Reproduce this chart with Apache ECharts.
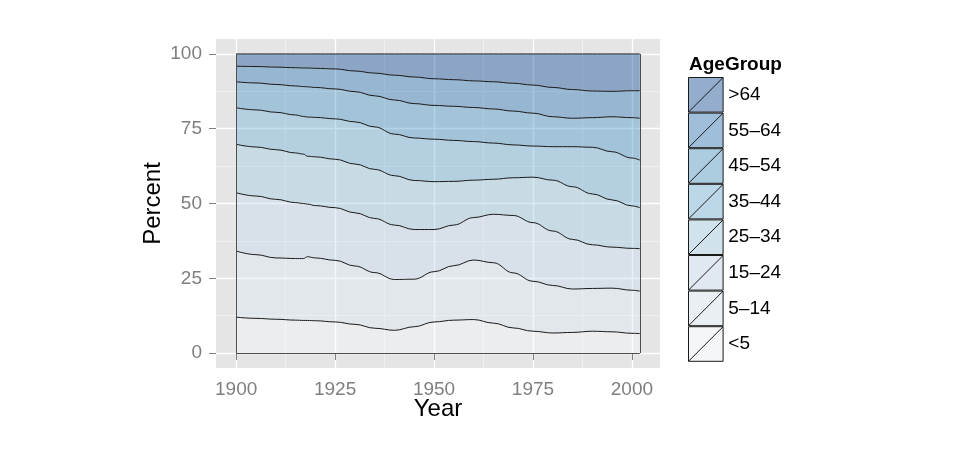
<!DOCTYPE html>
<html>
<head>
<meta charset="utf-8">
<script src="https://cdn.jsdelivr.net/npm/echarts@6/dist/echarts.min.js"></script>
<style>
  html, body { margin: 0; padding: 0; background: #ffffff; }
  #chart { width: 956px; height: 456px; }
</style>
</head>
<body>
<div id="chart"></div>
<script>
// ---- Data (percent of US population by age group) ----
const years = [1900, 1905, 1910, 1915, 1917, 1918, 1920, 1925, 1930, 1935, 1940, 1945,
               1950, 1955, 1960, 1965, 1970, 1975, 1980, 1985, 1990, 1995, 2000, 2002];

const ageUnder5 = [12.0, 11.6, 11.3, 11.0, 10.9, 10.9, 10.8, 10.4, 9.6, 8.3, 7.6, 8.8,
                   10.4, 11.0, 11.2, 10.0, 8.4, 7.3, 6.7, 6.9, 7.3, 7.1, 6.6, 6.5];
const age5to14 = [22.1, 21.3, 20.5, 20.6, 20.7, 21.3, 21.0, 20.6, 19.5, 18.6, 17.0, 15.9,
                  16.8, 18.2, 19.9, 20.2, 18.4, 16.7, 15.9, 14.5, 14.3, 14.6, 14.4, 14.2];
const age15to24 = [19.5, 19.6, 19.6, 18.7, 18.4, 17.6, 17.5, 17.6, 17.8, 18.1, 18.2, 16.6,
                   14.1, 13.6, 14.2, 16.2, 19.2, 19.6, 18.2, 16.6, 14.6, 13.7, 14.0, 14.2];
const age25to34 = [16.2, 16.4, 16.6, 16.6, 16.5, 16.0, 16.3, 16.2, 16.3, 16.4, 16.5, 16.4,
                   16.0, 14.6, 12.5, 11.7, 12.6, 15.2, 17.0, 17.6, 17.0, 15.8, 14.2, 13.7];
const age35to44 = [12.2, 12.4, 12.5, 12.7, 12.6, 13.1, 13.2, 13.5, 14.1, 14.2, 13.9, 14.2,
                   14.2, 13.7, 12.9, 12.1, 11.0, 10.4, 11.2, 13.4, 15.6, 16.1, 16.0, 15.9];
const age45to54 = [8.7, 9.0, 9.3, 9.7, 10.0, 10.1, 10.0, 10.0, 10.1, 10.4, 11.4, 11.5,
                   11.3, 11.4, 11.4, 11.4, 11.3, 11.0, 10.0, 9.5, 9.9, 11.7, 13.5, 14.0];
const age55to64 = [5.2, 5.5, 5.8, 6.1, 6.2, 6.3, 6.4, 6.7, 6.9, 7.6, 8.3, 8.9,
                   8.9, 8.9, 8.9, 9.1, 9.3, 9.4, 9.8, 9.6, 8.9, 8.5, 9.0, 9.2];
const ageOver64 = [4.1, 4.2, 4.4, 4.6, 4.7, 4.7, 4.8, 5.0, 5.7, 6.4, 7.1, 7.7,
                   8.3, 8.6, 9.0, 9.3, 9.8, 10.4, 11.2, 11.9, 12.4, 12.5, 12.3, 12.3];

const groupNames = ['<5', '5\u201314', '15\u201324', '25\u201334', '35\u201344', '45\u201354', '55\u201364', '>64'];
const groupValues = [ageUnder5, age5to14, age15to24, age25to34, age35to44, age45to54, age55to64, ageOver64];

const xTicks = [1900, 1925, 1950, 1975, 2000];
const xMinorTicks = [1912.5, 1937.5, 1962.5, 1987.5];
const yTicks = [0, 25, 50, 75, 100];
const yMinorTicks = [12.5, 37.5, 62.5, 87.5];

// ---- Styling ----
const FONT = 'Liberation Sans, Arial, Helvetica, sans-serif';
// Blues palette (ColorBrewer, 8 classes) with alpha 0.4
const areaColors = ['rgba(247,251,255,0.4)', 'rgba(222,235,247,0.4)', 'rgba(198,219,239,0.4)',
  'rgba(158,202,225,0.4)', 'rgba(107,174,214,0.4)', 'rgba(66,146,198,0.4)',
  'rgba(33,113,181,0.4)', 'rgba(8,69,148,0.4)'];
// same colours composited over the legend key background
const legendColors = ['#F4F6F7', '#EAEFF4', '#E0E9F1', '#D0E2EB', '#BCD7E7', '#ACCCE0', '#9EBED9', '#94ADCC'];

const chart = echarts.init(document.getElementById('chart'), null, { renderer: 'canvas' });

// data rows are [percent, year]; encode maps year -> x and percent -> y so that
// the stack is computed on the percent (y) dimension.
const series = groupNames.map((name, i) => ({
  name: name,
  type: 'line',
  stack: 'total',
  xAxisIndex: 0,
  yAxisIndex: 0,
  encode: { x: 1, y: 0 },
  smooth: 0.4,
  smoothMonotone: 'x',
  showSymbol: false,
  symbol: 'none',
  lineStyle: { color: '#1a1a1a', width: 1 },
  areaStyle: { color: areaColors[i], opacity: 1 },
  emphasis: { disabled: true },
  z: 3,
  data: years.map((y, k) => [groupValues[i][k], y])
}));

// outline of the stacked region (left, right and bottom edges)
series.push({
  name: 'outline',
  type: 'line',
  xAxisIndex: 0,
  yAxisIndex: 0,
  data: [],
  silent: true,
  z: 4,
  markLine: {
    silent: true,
    symbol: ['none', 'none'],
    label: { show: false },
    lineStyle: { color: '#4d4d4d', width: 1, type: 'solid' },
    data: [
      [{ coord: [years[0], 0] }, { coord: [years[0], 100] }],
      [{ coord: [years[years.length - 1], 0] }, { coord: [years[years.length - 1], 100] }],
      [{ coord: [years[0], 0] }, { coord: [years[years.length - 1], 0] }]
    ]
  }
});

const xMin = 1894.9, xMax = 2007.1, yMin = -5, yMax = 105;

const option = {
  animation: false,
  backgroundColor: '#ffffff',
  title: {
    text: 'AgeGroup',
    left: 689,
    top: 55,
    padding: 0,
    textStyle: { fontFamily: FONT, fontSize: 19, fontWeight: 'bold', color: '#000000' }
  },
  legend: {
    orient: 'vertical',
    left: 688,
    top: 77,
    padding: 0,
    itemWidth: 35,
    itemHeight: 34.6,
    itemGap: 0,
    selectedMode: false,
    textStyle: { fontFamily: FONT, fontSize: 19, color: '#000000' },
    data: groupNames.slice().reverse().map((name) => {
      const i = groupNames.indexOf(name);
      return {
        name: name,
        icon: 'path://M0,0L100,0L100,100L0,100Z M0,100L100,0',
        itemStyle: { color: legendColors[i], borderColor: '#1a1a1a', borderWidth: 1 }
      };
    })
  },
  grid: {
    left: 216, right: 296, top: 39, bottom: 88,
    show: true,
    backgroundColor: '#E5E5E5',
    borderWidth: 0,
    containLabel: false
  },
  xAxis: [
    {
      type: 'value',
      min: xMin, max: xMax,
      name: 'Year',
      nameLocation: 'middle',
      nameGap: 29,
      nameMoveOverlap: false,
      nameTextStyle: { fontFamily: FONT, fontSize: 24, color: '#000000' },
      axisLine: { show: false },
      axisTick: { show: true, length: 7, customValues: xTicks, lineStyle: { color: '#7F7F7F', width: 1 } },
      axisLabel: { show: true, customValues: xTicks, margin: 12, fontFamily: FONT, fontSize: 19, color: '#7F7F7F',
                   formatter: (v) => String(v) },
      splitLine: { show: true, lineStyle: { color: '#FFFFFF', width: 1.3 } },
      z: 2
    },
    {
      type: 'value',
      min: xMin, max: xMax,
      position: 'bottom',
      axisLine: { show: false },
      axisTick: { show: false, customValues: xMinorTicks },
      axisLabel: { show: false, customValues: xMinorTicks },
      splitLine: { show: true, lineStyle: { color: '#F2F2F2', width: 0.8 } },
      z: 1
    }
  ],
  yAxis: [
    {
      type: 'value',
      min: yMin, max: yMax,
      name: 'Percent',
      nameLocation: 'middle',
      nameGap: 51,
      nameRotate: 90,
      nameMoveOverlap: false,
      nameTextStyle: { fontFamily: FONT, fontSize: 24, color: '#000000' },
      axisLine: { show: false },
      axisTick: { show: true, length: 7, customValues: yTicks, lineStyle: { color: '#7F7F7F', width: 1 } },
      axisLabel: { show: true, customValues: yTicks, margin: 14, fontFamily: FONT, fontSize: 19, color: '#7F7F7F' },
      splitLine: { show: true, lineStyle: { color: '#FFFFFF', width: 1.3 } },
      z: 2
    },
    {
      type: 'value',
      min: yMin, max: yMax,
      position: 'left',
      axisLine: { show: false },
      axisTick: { show: false, customValues: yMinorTicks },
      axisLabel: { show: false, customValues: yMinorTicks },
      splitLine: { show: true, lineStyle: { color: '#F2F2F2', width: 0.8 } },
      z: 1
    }
  ],
  series: series
};

chart.setOption(option);
</script>
</body>
</html>
